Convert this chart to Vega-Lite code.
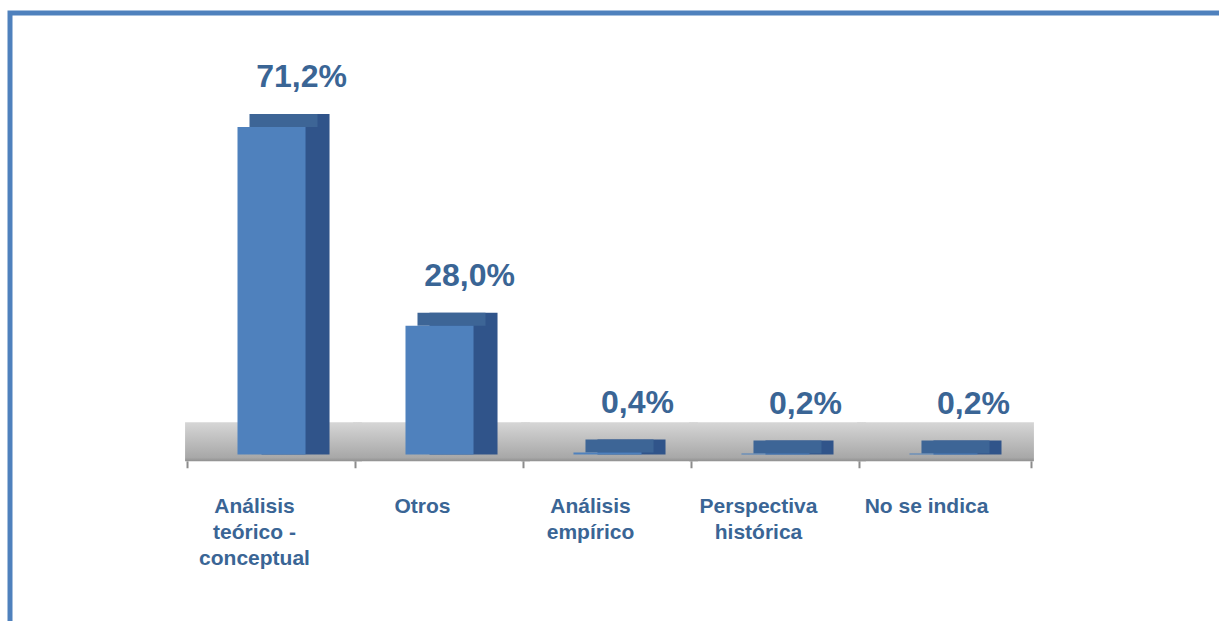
{
  "$schema": "https://vega.github.io/schema/vega-lite/v6.json",
  "width": 1240,
  "height": 630,
  "autosize": "none",
  "padding": {"left": 10, "top": 13, "right": 0, "bottom": 0},
  "background": "white",
  "config": {
    "view": {"stroke": "#4f81bd", "strokeWidth": 5, "fill": "white"},
    "font": "Liberation Sans"
  },
  "data": {
    "values": [
      {"cat": "Análisis teórico - conceptual", "name": "Análisis\nteórico -\nconceptual", "value": 71.2, "pct": "71,2%"},
      {"cat": "Otros", "name": "Otros", "value": 28.0, "pct": "28,0%"},
      {"cat": "Análisis empírico", "name": "Análisis\nempírico", "value": 0.4, "pct": "0,4%"},
      {"cat": "Perspectiva histórica", "name": "Perspectiva\nhistórica", "value": 0.2, "pct": "0,2%"},
      {"cat": "No se indica", "name": "No se indica", "value": 0.2, "pct": "0,2%"}
    ]
  },
  "encoding": {
    "x": {
      "field": "cat",
      "type": "nominal",
      "sort": null,
      "axis": null,
      "scale": {"range": [143.5, 1051.5], "paddingInner": 0.595, "paddingOuter": 0.5, "align": 0.5}
    }
  },
  "layer": [
    {
      "mark": {
        "type": "bar",
        "width": {"band": 2.6},
        "xOffset": 2,
        "color": {
          "gradient": "linear",
          "x1": 0, "y1": 0, "x2": 0, "y2": 1,
          "stops": [
            {"offset": 0, "color": "#d6d6d6"},
            {"offset": 0.9, "color": "#a8a8a8"},
            {"offset": 1, "color": "#8f8f8f"}
          ]
        }
      },
      "encoding": {
        "y": {"datum": 7, "type": "quantitative", "scale": {"domain": [-41, 96], "nice": false, "zero": false}, "axis": null},
        "y2": {"datum": -1.5}
      }
    },
    {
      "mark": {"type": "rule", "xOffset": -84, "color": "#8c8c8c", "strokeWidth": 2},
      "encoding": {
        "y": {"datum": -1.5, "type": "quantitative"},
        "y2": {"datum": -3}
      }
    },
    {
      "transform": [{"filter": "datum.cat === 'No se indica'"}],
      "mark": {"type": "rule", "xOffset": 88, "color": "#8c8c8c", "strokeWidth": 2},
      "encoding": {
        "y": {"datum": -1.5, "type": "quantitative"},
        "y2": {"datum": -3}
      }
    },
    {
      "mark": {"type": "bar", "xOffset": 24, "yOffset": -13, "color": "#30548a"},
      "encoding": {
        "y": {"field": "value", "type": "quantitative"},
        "y2": {"datum": 0}
      }
    },
    {
      "mark": {"type": "bar", "xOffset": 12, "yOffset": -13, "y2Offset": 0, "color": "#3d6596"},
      "encoding": {
        "y": {"field": "value", "type": "quantitative"},
        "y2": {"field": "value"}
      }
    },
    {
      "mark": {"type": "bar", "color": "#4f81bd"},
      "encoding": {
        "y": {"field": "value", "type": "quantitative"},
        "y2": {"datum": 0}
      }
    },
    {
      "mark": {
        "type": "text",
        "dx": 30,
        "dy": -40,
        "baseline": "alphabetic",
        "align": "center",
        "fontSize": 32,
        "fontWeight": "bold",
        "color": "#3a6595"
      },
      "encoding": {
        "y": {"field": "value", "type": "quantitative"},
        "text": {"field": "pct"}
      }
    },
    {
      "mark": {
        "type": "text",
        "dx": -17,
        "dy": 35,
        "baseline": "top",
        "align": "center",
        "fontSize": 21,
        "fontWeight": "bold",
        "lineHeight": 26,
        "lineBreak": "\n",
        "color": "#3a6595"
      },
      "encoding": {
        "y": {"datum": -1.5, "type": "quantitative"},
        "text": {"field": "name"}
      }
    }
  ]
}
